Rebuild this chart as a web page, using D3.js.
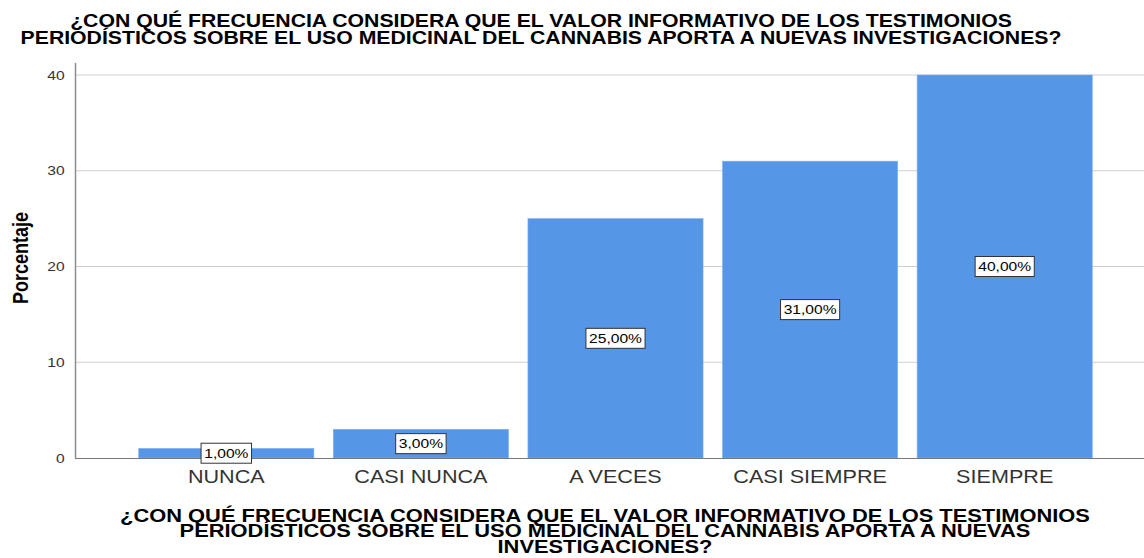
<!DOCTYPE html>
<html>
<head>
<meta charset="utf-8">
<script src="https://cdn.jsdelivr.net/npm/d3@7"></script>
<style>
	body { margin: 0; background: #fff; }
	text { font-family: Arial, "Liberation Sans", sans-serif; }
</style>
</head>
<body>
<script>
// Data
var categories = ["NUNCA", "CASI NUNCA", "A VECES", "CASI SIEMPRE", "SIEMPRE"];
var porcentajes = [1, 3, 25, 31, 40];
var yTicks = [0, 10, 20, 30, 40];
var titleLines = [
	"¿CON QUÉ FRECUENCIA CONSIDERA QUE EL VALOR INFORMATIVO DE LOS TESTIMONIOS",
	"PERIODÍSTICOS SOBRE EL USO MEDICINAL DEL CANNABIS APORTA A NUEVAS INVESTIGACIONES?"
];
var xTitleLines = [
	"¿CON QUÉ FRECUENCIA CONSIDERA QUE EL VALOR INFORMATIVO DE LOS TESTIMONIOS",
	"PERIODÍSTICOS SOBRE EL USO MEDICINAL DEL CANNABIS APORTA A NUEVAS",
	"INVESTIGACIONES?"
];
var yTitle = "Porcentaje";

//Width and height
var w = 1144, h = 558;
// the original export is stretched sideways a little
var stretch = 1.2;

var svg = d3.select("body")
	.append("svg")
	.attr("width", w)
	.attr("height", h);

//Scales
var xScale = d3.scaleBand()
	.domain(categories)
	.range([129, 1102])
	.paddingInner(0.1)
	.paddingOuter(0.05);

var yScale = d3.scaleLinear()
	.domain([0, 40])
	.range([458, 75]);

// Gridlines
svg.append("g").selectAll("line")
	.data(yTicks.filter(function(d){ return d > 0; }))
	.enter()
	.append("line")
	.attr("x1", 76)
	.attr("x2", w)
	.attr("y1", function(d){ return yScale(d); })
	.attr("y2", function(d){ return yScale(d); })
	.style("stroke", "#cfcfcf")
	.style("stroke-width", 1);

// Bars
svg.append("g").selectAll("rect")
	.data(porcentajes)
	.enter()
	.append("rect")
	.attr("x", function(d, i){ return xScale(categories[i]); })
	.attr("y", function(d){ return yScale(d); })
	.attr("width", xScale.bandwidth())
	.attr("height", function(d){ return yScale(0) - yScale(d); })
	.style("fill", "#5596e6")
	.style("stroke", "#7fb0ee")
	.style("stroke-width", 0.6);

// Axes
var yAxis = d3.axisLeft(yScale)
	.tickValues(yTicks)
	.tickSize(0)
	.tickPadding(9);

var gy = svg.append("g")
	.attr("transform", "translate(75.5,0)")
	.call(yAxis);
gy.select(".domain").remove();
gy.selectAll("text")
	.attr("transform", "scale(" + stretch + ",1)")
	.style("font-size", "13px")
	.style("fill", "#333");

svg.append("line")
	.attr("x1", 75.5).attr("x2", 75.5)
	.attr("y1", 63).attr("y2", 458)
	.style("stroke", "#8c8c8c")
	.style("stroke-width", 1.5);

svg.append("line")
	.attr("x1", 75).attr("x2", w)
	.attr("y1", 458.5).attr("y2", 458.5)
	.style("stroke", "#777")
	.style("stroke-width", 1.2);

var xAxis = d3.axisBottom(xScale)
	.tickSize(0)
	.tickPadding(12);

var gx = svg.append("g")
	.attr("transform", "translate(0,458)")
	.call(xAxis);
gx.select(".domain").remove();
gx.selectAll("text")
	.attr("transform", "scale(" + stretch + ",1)")
	.style("font-size", "18px")
	.style("fill", "#333");

// Value labels
var labels = svg.append("g").selectAll("g")
	.data(porcentajes)
	.enter()
	.append("g")
	.attr("transform", function(d, i){
		var cx = xScale(categories[i]) + xScale.bandwidth() / 2;
		var cy = (yScale(d) + yScale(0)) / 2;
		return "translate(" + cx + "," + cy + ")";
	});

var boxes = labels.append("rect")
	.attr("y", -10)
	.attr("height", 20)
	.style("fill", "#fff")
	.style("stroke", "#333")
	.style("stroke-width", 1);

labels.append("text")
	.attr("text-anchor", "middle")
	.attr("dy", "0.36em")
	.attr("transform", "scale(" + stretch + ",1)")
	.style("font-size", "13px")
	.style("fill", "#000")
	.text(function(d){ return d3.format(".2f")(d).replace(".", ",") + "%"; })
	.each(function(){
		// size the box to the text
		var bw = this.getBBox().width * stretch + 6;
		d3.select(this.parentNode).select("rect")
			.attr("x", -bw / 2)
			.attr("width", bw);
	});

// Titles (one text each, a tspan per line)
var title = svg.append("text")
	.attr("transform", "translate(541,0) scale(1.18,1)")
	.attr("text-anchor", "middle")
	.style("font-size", "18px")
	.style("font-weight", "bold");
title.selectAll("tspan")
	.data(titleLines)
	.enter()
	.append("tspan")
	.attr("x", 0)
	.attr("y", function(d, i){ return 27 + i * 17; })
	.text(function(d){ return d; });

var xTitle = svg.append("text")
	.attr("transform", "translate(605,0) scale(1.215,1)")
	.attr("text-anchor", "middle")
	.style("font-size", "18px")
	.style("font-weight", "bold");
xTitle.selectAll("tspan")
	.data(xTitleLines)
	.enter()
	.append("tspan")
	.attr("x", 0)
	.attr("y", function(d, i){ return 522 + i * 15.5; })
	.text(function(d){ return d; });

svg.append("text")
	.attr("transform", "translate(28,258) scale(1.25,1) rotate(-90)")
	.attr("text-anchor", "middle")
	.style("font-size", "18px")
	.style("font-weight", "bold")
	.text(yTitle);
</script>
</body>
</html>
